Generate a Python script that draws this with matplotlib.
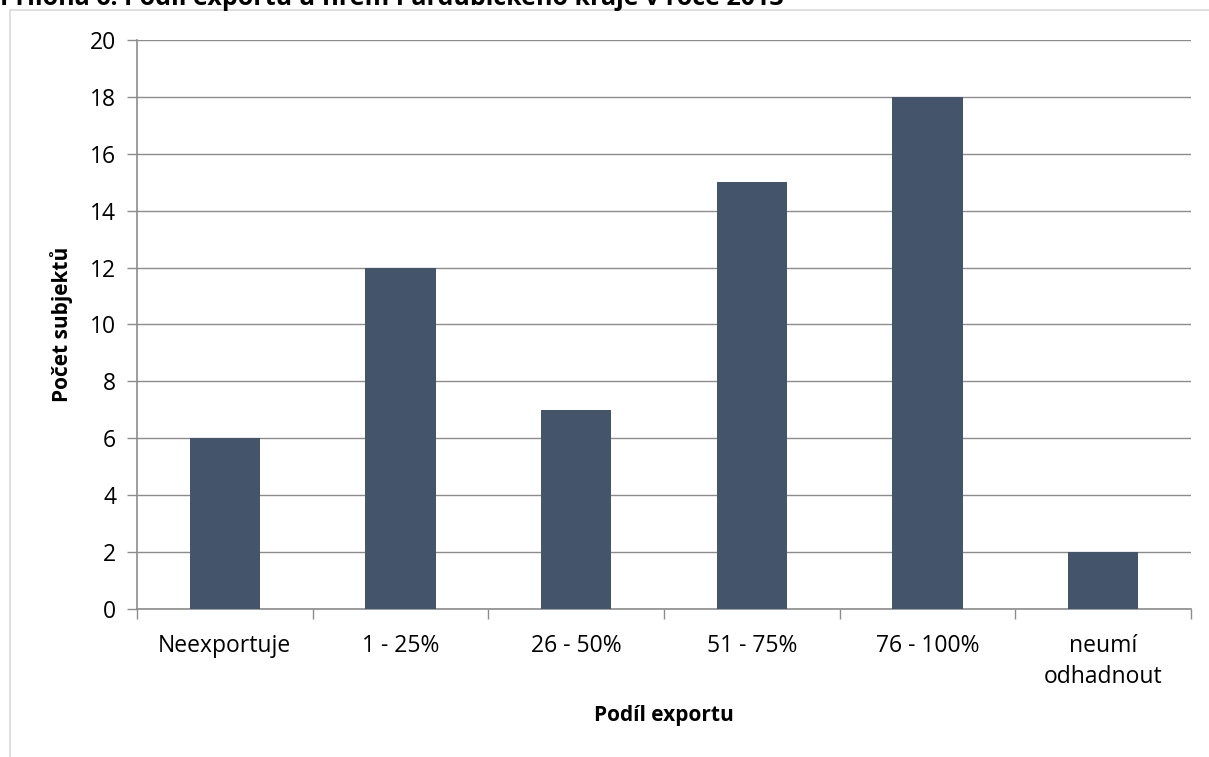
import matplotlib.pyplot as plt
from matplotlib.patches import Rectangle
import numpy as np

categories = ['Neexportuje', '1 - 25%', '26 - 50%', '51 - 75%', '76 - 100%', 'neumí\nodhadnout']
counts = [6, 12, 7, 15, 18, 2]
y_ticks = [0, 2, 4, 6, 8, 10, 12, 14, 16, 18, 20]

TITLE = 'Příloha 6: Podíl exportu u firem Pardubického kraje v roce 2013'
BAR_COLOR = '#44546A'
GRID_COLOR = '#8C8C8C'

plt.rcParams['font.family'] = ['Open Sans', 'DejaVu Sans']

fig = plt.figure(figsize=(12.09, 7.57), dpi=100)
ax = fig.add_axes([0.1133, 0.1955, 0.8717, 0.7517])

# Chart frame (light border)
fig.patches.append(Rectangle((10 / 1209, -0.01), 1.05, 1 - 10 / 757 + 0.01,
                             transform=fig.transFigure, fill=False,
                             edgecolor='#D9D9D9', linewidth=1.2))

x = np.arange(len(categories))
ax.bar(x, counts, width=0.4, color=BAR_COLOR, zorder=3)

ax.set_xlim(-0.5, len(categories) - 0.5)
ax.set_ylim(0, 20)
ax.set_yticks(y_ticks)
ax.yaxis.grid(True, color=GRID_COLOR, linewidth=1.0, zorder=0)

ax.set_xticks(x)
ax.set_xticklabels(categories, fontsize=16.5, linespacing=1.4)
ax.set_xticks(np.arange(-0.5, len(categories), 1), minor=True)
ax.tick_params(axis='x', which='major', length=0, pad=18)
ax.tick_params(axis='x', which='minor', length=7, color=GRID_COLOR, width=1.0)
ax.tick_params(axis='y', length=7, color=GRID_COLOR, width=1.0, labelsize=16.5, pad=8)

for side in ['top', 'right']:
    ax.spines[side].set_visible(False)
for side in ['left', 'bottom']:
    ax.spines[side].set_color(GRID_COLOR)
    ax.spines[side].set_linewidth(1.2)

ax.set_ylabel('Počet subjektů', fontsize=15, fontweight='bold', labelpad=12)
ax.set_xlabel('Podíl exportu', fontsize=15, fontweight='bold')
ax.xaxis.set_label_coords(0.5, -0.168)

fig.text(0.0, 1 - 5 / 757, TITLE, fontsize=18, fontweight='bold',
         ha='left', va='baseline')

fig.savefig('out.png', dpi=100)
